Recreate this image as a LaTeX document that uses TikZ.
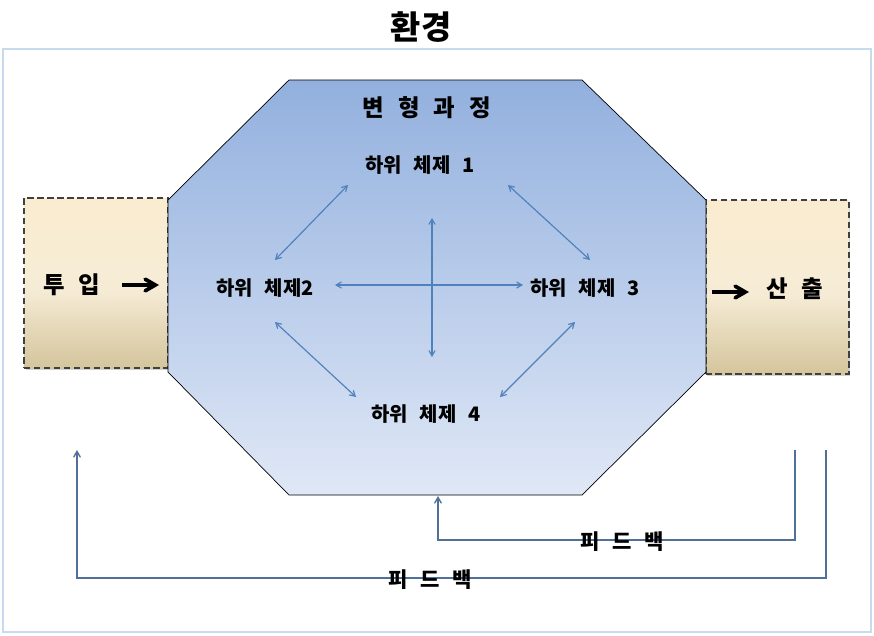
\documentclass[tikz,border=0pt]{standalone}
\usepackage{fontspec}
\setmainfont{Noto Sans CJK KR}[WordSpace=2.6]
\usetikzlibrary{arrows,shapes,shadows,positioning}
\definecolor{frameblue}{RGB}{200,218,238}
\definecolor{octtop}{RGB}{146,176,222}
\definecolor{octbot}{RGB}{224,232,246}
\definecolor{boxtop}{RGB}{250,236,208}
\definecolor{boxmid}{RGB}{246,236,214}
\definecolor{boxbot}{RGB}{212,197,156}
\definecolor{linkblue}{RGB}{79,129,189}
\definecolor{fbblue}{RGB}{80,112,152}
\pgfdeclareverticalshading{ioshade}{100bp}{color(0bp)=(boxbot); color(25bp)=(boxbot);
  color(48bp)=(boxmid); color(75bp)=(boxtop); color(100bp)=(boxtop)}
\tikzstyle{io} = [rectangle, draw=black!75, line width=1.7pt, dash pattern=on 5.5pt off 3pt,
    shading=ioshade, minimum width=4.32cm, minimum height=5.1cm,
    drop shadow={opacity=0.35, shadow xshift=1.6pt, shadow yshift=-1.6pt}]
\tikzstyle{iotext} = [font=\bfseries\fontsize{20}{24}\selectfont]
\tikzstyle{ioarrow} = [->, >=angle 60, line width=3.2pt, black]
\tikzstyle{sub} = [font=\bfseries\fontsize{17}{20}\selectfont]
\tikzstyle{fblabel} = [font=\bfseries\fontsize{18}{21}\selectfont]
\tikzstyle{link} = [<->, >=angle 60, draw=linkblue, line width=1pt]
\tikzstyle{fb} = [->, >=angle 60, draw=fbblue, line width=1.2pt]

\begin{document}
\begin{tikzpicture}[x=0.03cm,y=-0.03cm]
  \useasboundingbox (0,0) rectangle (874,635);
  \draw[frameblue, line width=2pt] (3,49) rectangle (871,632);
  \node[font=\bfseries\fontsize{28}{32}\selectfont] (env) at (421,27) {환경};

  % input / output
  \node[io] (inbox) at (96,283) {};
  \node[io, minimum width=4.29cm, minimum height=5.22cm] (outbox) at (777,287) {};
  \node[iotext] (intext) at (72,285) {투 입};
  \node[iotext] (outtext) at (795,289) {산 출};
  \coordinate (ia) at (122,285);  \coordinate (ib) at (159,285);
  \coordinate (oa) at (712,292);  \coordinate (ob) at (749,292);
  \draw[ioarrow] (ia) -- (ib);
  \draw[ioarrow] (oa) -- (ob);

  % transformation process
  \draw[draw=black, line width=0.6pt, top color=octtop, bottom color=octbot]
    (289,80) -- (582,80) -- (706,200) -- (706,372) -- (582,495)
    -- (289,495) -- (168,372) -- (168,200) -- cycle;
  \node[font=\bfseries\fontsize{20}{24}\selectfont] (proc) at (427,108) {변 형 과 정};

  \node[sub] (s1) at (420,165) {하위 체제 1};
  \node[sub] (s2) at (265,288) {하위 체제2};
  \node[sub] (s3) at (585,288) {하위 체제 3};
  \node[sub] (s4) at (426,414) {하위 체제 4};

  \coordinate (a1) at (275,260);  \coordinate (b1) at (348,185);
  \coordinate (a2) at (508,185);  \coordinate (b2) at (590,260);
  \coordinate (a3) at (335,285);  \coordinate (b3) at (523,285);
  \coordinate (a4) at (432,218);  \coordinate (b4) at (432,357);
  \coordinate (a5) at (275,322);  \coordinate (b5) at (356,397);
  \coordinate (a6) at (500,397);  \coordinate (b6) at (575,322);
  \foreach \i in {1,...,6}
    \draw[link] (a\i) -- (b\i);

  % feedback
  \coordinate (f1) at (795,450);
  \coordinate (f2) at (826,450);
  \coordinate (t1) at (438,496);
  \coordinate (t2) at (77,450);
  \draw[fb] (f1) |- (438,540) -- (t1);
  \draw[fb] (f2) |- (77,578) -- (t2);
  \node[fblabel] (fb1) at (622,542) {피 드 백};
  \node[fblabel] (fb2) at (430,580) {피 드 백};
\end{tikzpicture}
\end{document}
